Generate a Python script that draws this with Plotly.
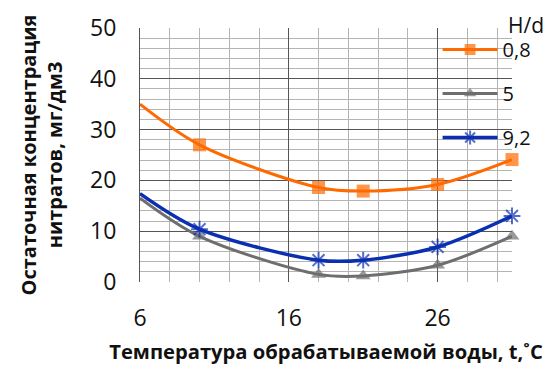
import plotly.graph_objects as go

temps = [6, 10, 18, 21, 26, 31]
hd_08 = [35, 27.0, 18.6, 17.9, 19.2, 24.1]
hd_5 = [16.5, 9.0, 1.5, 1.2, 3.3, 9.0]
hd_92 = [17.4, 10.4, 4.3, 4.3, 6.9, 13.0]
names = ["0,8", "5", "9,2"]

FONT = "Open Sans"
fig = go.Figure()
series = [
    (hd_08, names[0], "#ff6a00", "square", 13, 3),
    (hd_5, names[1], "#6e6e6e", "triangle-up", 13, 3),
    (hd_92, names[2], "#0a2fb0", "asterisk-open", 14, 3.5),
]
for i, (vals, nm, col, sym, sz, lw) in enumerate(series):
    fig.add_trace(go.Scatter(
        x=temps, y=vals, name=nm, mode="lines+markers",
        line=dict(color=col, width=lw, shape="spline", smoothing=0.9),
        marker=dict(symbol=sym, size=[0] + [sz] * (len(temps) - 1), color=col,
                    line=dict(color=col, width=2 if "asterisk" in sym else 0)),
        legendgroup=str(i), cliponaxis=False,
    ))

fig.update_layout(
    width=548, height=360,
    margin=dict(l=132, r=44, t=20, b=86),
    paper_bgcolor="white", plot_bgcolor="white",
    font=dict(family=FONT, color="#111"),
    showlegend=True,
    legend=dict(x=0.80, y=0.992, xanchor="left", yanchor="top",
                bgcolor="rgba(0,0,0,0)", font=dict(size=20, family=FONT),
                itemwidth=55, tracegroupgap=15, traceorder="grouped"),
    xaxis=dict(range=[6, 31], tick0=6, dtick=10, showgrid=True, gridcolor="#555",
               gridwidth=1, minor=dict(dtick=2, showgrid=True, gridcolor="#b4b4b4", gridwidth=1),
               zeroline=False, showline=False, ticks="", ticklabelstandoff=20,
               automargin=False,
               tickfont=dict(size=23, family=FONT),
               title=dict(text="<b>Температура обрабатываемой воды, t,˚C</b>",
                          font=dict(size=20.2, family=FONT), standoff=12)),
    yaxis=dict(range=[0, 50], dtick=10, showgrid=True, gridcolor="#555", gridwidth=1,
               minor=dict(dtick=2, showgrid=True, gridcolor="#b4b4b4", gridwidth=1),
               zeroline=False, showline=True, linecolor="#555", linewidth=1,
               automargin=False,
               ticks="", ticklabelstandoff=18, tickfont=dict(size=23, family=FONT),
               title=dict(text="<b>Остаточная концентрация<br>нитратов, мг/дм3</b>",
                          font=dict(size=20, family=FONT), standoff=22)),
)
fig.add_annotation(text="H/d", xref="paper", yref="paper", x=0.984, y=1.012,
                   xanchor="left", yanchor="middle",
                   showarrow=False, font=dict(size=21, family=FONT))
fig.write_html("out.html")
